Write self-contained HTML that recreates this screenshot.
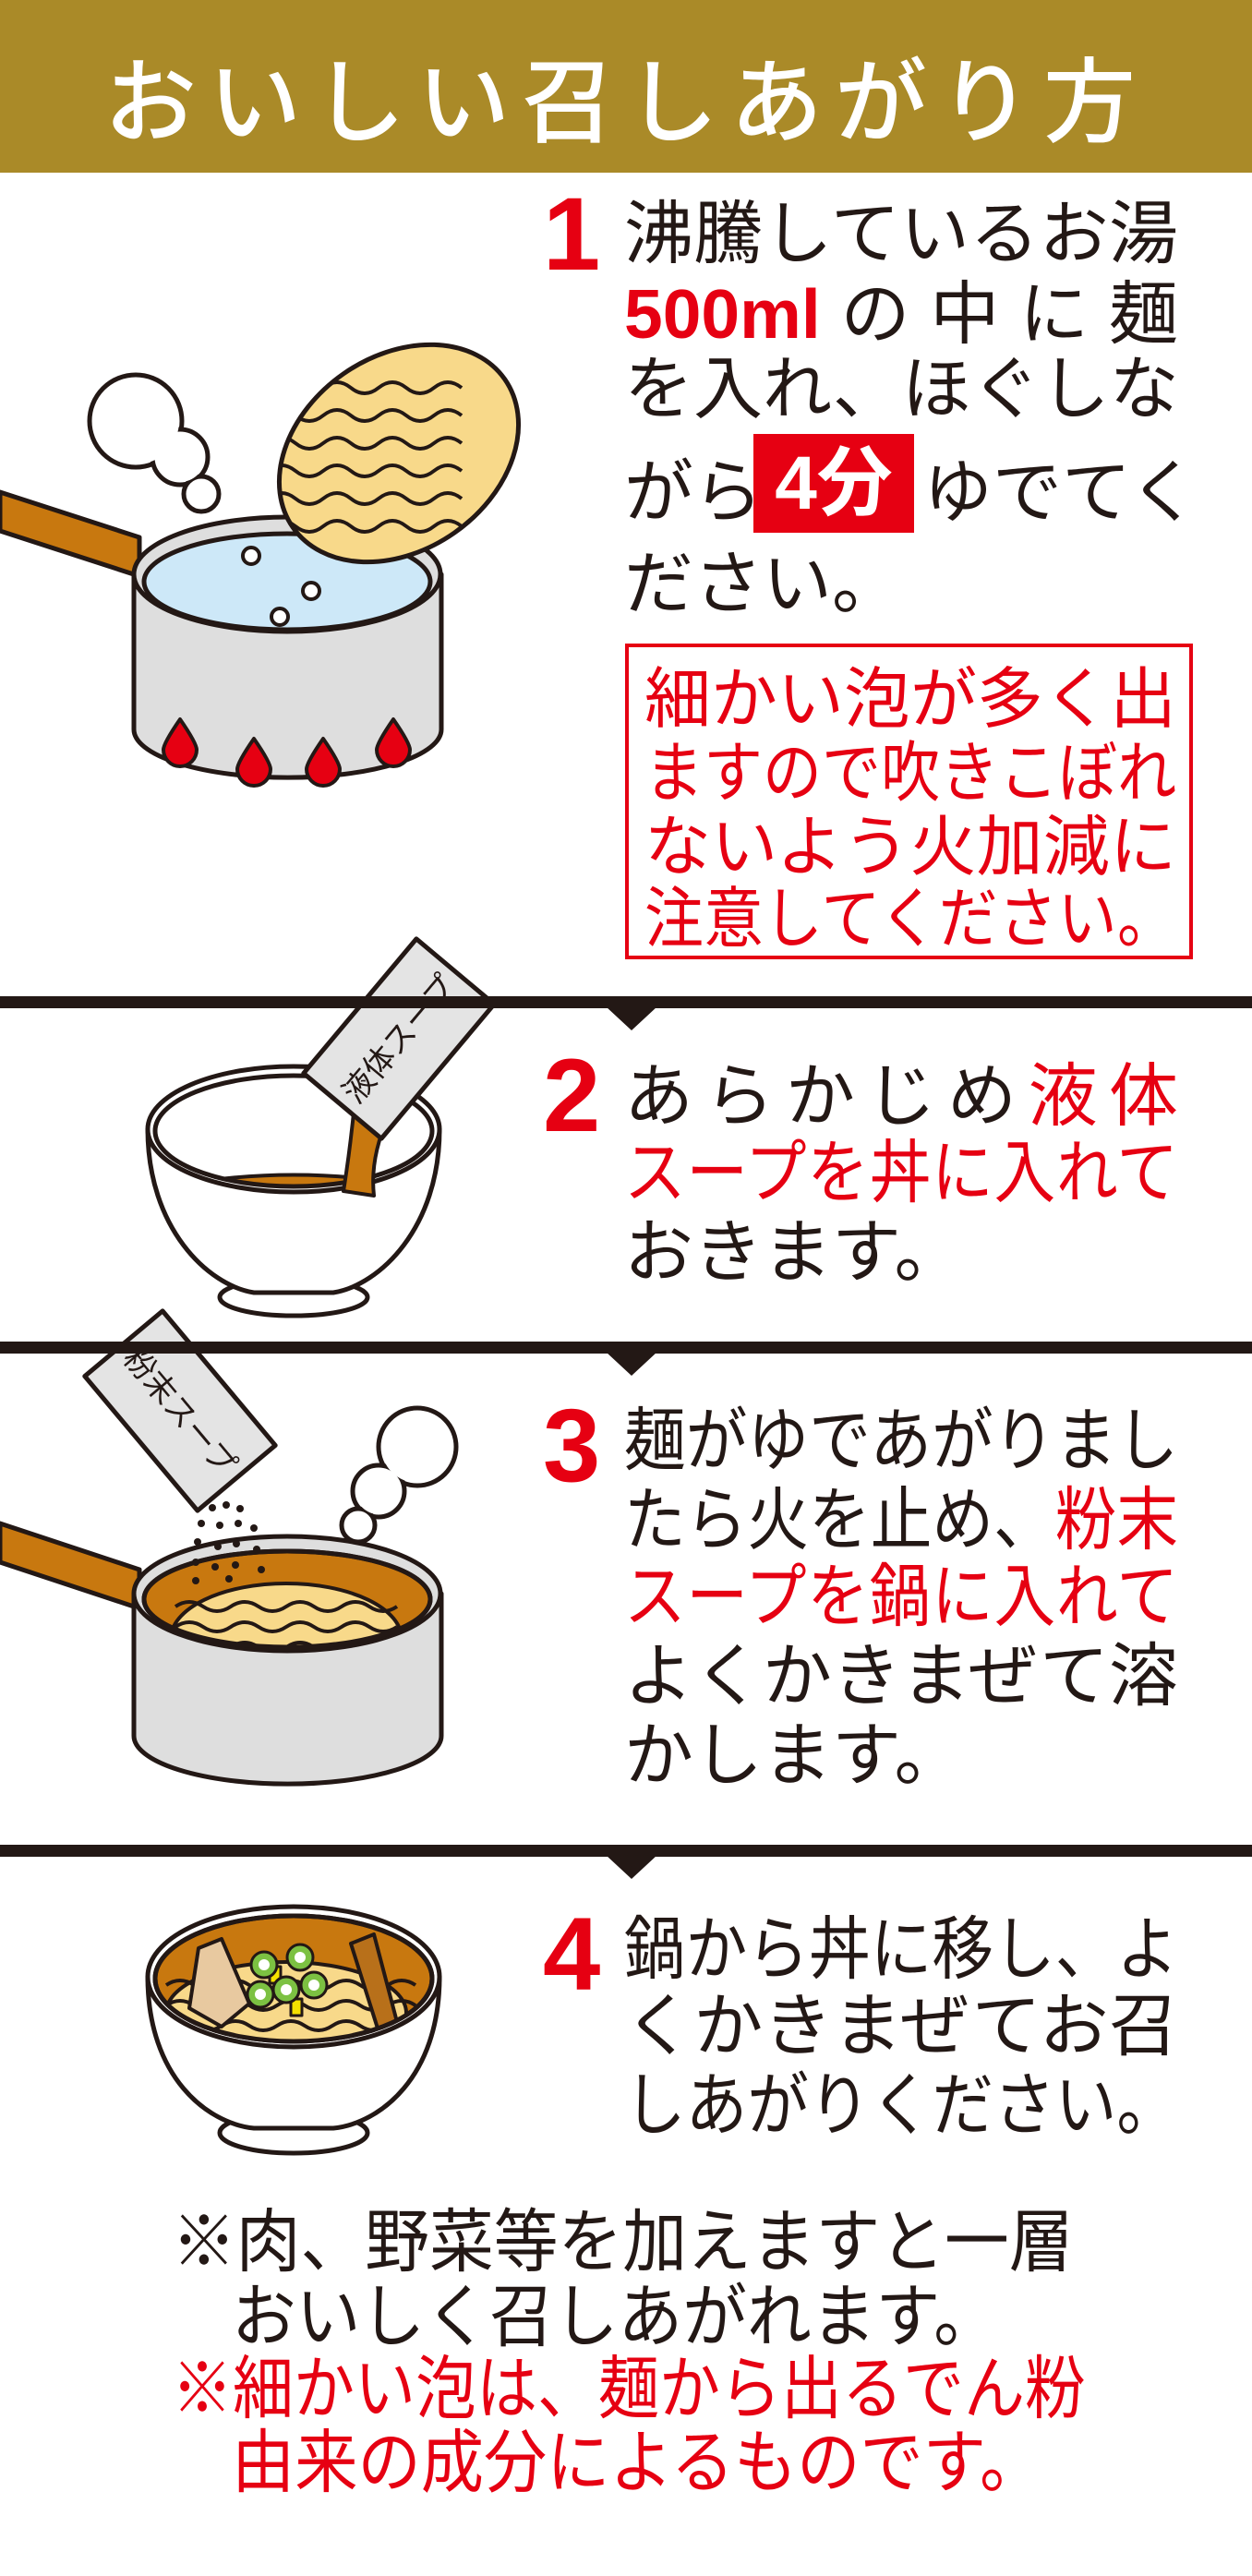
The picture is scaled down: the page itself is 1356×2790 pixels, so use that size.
<!DOCTYPE html>
<html><head><meta charset="utf-8">
<style>
*{margin:0;padding:0;box-sizing:border-box}
body{width:1356px;height:2790px;background:#fff;position:relative;overflow:hidden;font-family:"Liberation Sans","Noto Sans CJK JP",sans-serif;color:#231815}
.hdr{position:absolute;left:0;top:0;width:1356px;height:187px;background:#aa8a28}
.title{position:absolute;left:0;top:43px;width:1356px;text-align:center;color:#fff;font-size:100px;line-height:120px;letter-spacing:13px;font-family:"Noto Sans CJK JP",sans-serif;font-weight:500}
.ln{position:absolute;left:676px;white-space:nowrap;font-family:"Liberation Sans","Noto Sans CJK JP",sans-serif;font-size:75px;line-height:75px}
.j{width:600px;text-align:justify;text-align-last:justify}
.s9{width:675px;transform:scaleX(0.889);transform-origin:left center;text-align:justify;text-align-last:justify}
.r{color:#e60012}
.num{position:absolute;left:588px;color:#e60012;font-weight:bold;font-size:112px;line-height:112px;font-family:"Liberation Sans",sans-serif}
.bx{position:absolute;left:677px;top:697px;width:615px;height:342px;border:4px solid #e60012}
.bl{position:absolute;left:698px;white-space:nowrap;font-size:72px;line-height:72px;color:#e60012}
.bl.j8{width:576px;text-align:justify;text-align-last:justify}
.bl.j9{width:648px;transform:scaleX(0.889);transform-origin:left center;text-align:justify;text-align-last:justify}
.div{position:absolute;left:0;width:1356px;height:13px;background:#231815}
.tri{position:absolute;width:0;height:0;border-left:28px solid transparent;border-right:28px solid transparent;border-top:26px solid #231815}
.nt{position:absolute;white-space:nowrap;font-size:75px;line-height:75px;transform-origin:left center}
</style></head><body>
<div class="hdr"></div>
<div class="title">おいしい召しあがり方</div>

<svg width="1356" height="2790" style="position:absolute;left:0;top:0" xmlns="http://www.w3.org/2000/svg">
<defs>
<clipPath id="cake"><ellipse cx="432" cy="491" rx="138" ry="103" transform="rotate(-35 432 491)"/></clipPath>
<clipPath id="b2in"><ellipse cx="318" cy="1225" rx="150" ry="60"/></clipPath>
<clipPath id="p3in"><ellipse cx="311" cy="1732" rx="155" ry="52"/></clipPath>
<clipPath id="b4in"><ellipse cx="318" cy="2143" rx="150" ry="68"/></clipPath>
</defs>
<g stroke="#231815" stroke-width="5" stroke-linejoin="round">
<polygon points="0,533 151,582 151,624 0,575" fill="#c8780f"/>
<path d="M145,622 L145,790 A166,52 0 0 0 478,790 L478,622 Z" fill="#dedede"/>
<ellipse cx="311" cy="622" rx="166" ry="62" fill="#dedede"/>
<ellipse cx="311" cy="630" rx="155" ry="52" fill="#cde8f8"/>
<g fill="#fff" stroke-width="4"><circle cx="272" cy="602" r="9"/><circle cx="337" cy="640" r="9"/><circle cx="303" cy="668" r="9"/></g>
<g fill="#e60012" stroke-width="4">
<path d="M195,779 Q213,805 213,812 A18,18 0 0 1 177,812 Q177,805 195,779Z"/>
<path d="M275,800 Q293,826 293,833 A18,18 0 0 1 257,833 Q257,826 275,800Z"/>
<path d="M350,800 Q368,826 368,833 A18,18 0 0 1 332,833 Q332,826 350,800Z"/>
<path d="M426,779 Q444,805 444,812 A18,18 0 0 1 408,812 Q408,805 426,779Z"/>
</g>
<g fill="#fff"><circle cx="147" cy="456" r="50"/><circle cx="195" cy="495" r="30"/><circle cx="218" cy="535" r="19"/></g>
<g fill="#fff" stroke="none"><circle cx="147" cy="456" r="47"/><circle cx="195" cy="495" r="27"/><circle cx="218" cy="535" r="16"/></g>
<ellipse cx="432" cy="491" rx="140" ry="105" transform="rotate(-35 432 491)" fill="#f8d98a"/>
<g clip-path="url(#cake)" fill="none" stroke-width="4">
<path d="M290,420 q15,-12 30,0 t30,0 t30,0 t30,0 t30,0 t30,0 t30,0"/>
<path d="M290,450 q15,-12 30,0 t30,0 t30,0 t30,0 t30,0 t30,0 t30,0"/>
<path d="M290,480 q15,-12 30,0 t30,0 t30,0 t30,0 t30,0 t30,0 t30,0"/>
<path d="M290,510 q15,-12 30,0 t30,0 t30,0 t30,0 t30,0 t30,0 t30,0"/>
<path d="M290,540 q15,-12 30,0 t30,0 t30,0 t30,0 t30,0 t30,0 t30,0"/>
<path d="M290,570 q15,-12 30,0 t30,0 t30,0 t30,0 t30,0 t30,0 t30,0"/>
</g>

<ellipse cx="318" cy="1405" rx="80" ry="20" fill="#fff"/>
<path d="M160,1223 C160,1330 225,1392 275,1400 L361,1400 C411,1392 476,1330 476,1223 Z" fill="#fff"/>
<ellipse cx="318" cy="1223" rx="158" ry="68" fill="#fff"/>
<g clip-path="url(#b2in)"><path d="M160,1290 Q318,1255 476,1290 L476,1300 L160,1300Z" fill="#c8780f" stroke-width="4"/></g>
<ellipse cx="318" cy="1225" rx="150" ry="60" fill="none"/>
<path d="M385,1185 L425,1200 Q400,1250 405,1295 L372,1290 Q380,1240 385,1185Z" fill="#c8780f" stroke-width="4"/>
<g transform="rotate(-50 432 1125)"><rect x="337" y="1070" width="190" height="110" fill="#e4e4e4"/></g>

<polygon points="0,1650 151,1700 151,1742 0,1692" fill="#c8780f"/>
<path d="M145,1726 L145,1880 A166,52 0 0 0 478,1880 L478,1726 Z" fill="#dedede"/>
<ellipse cx="311" cy="1726" rx="166" ry="62" fill="#dedede"/>
<ellipse cx="311" cy="1732" rx="155" ry="52" fill="#c8780f"/>
<g clip-path="url(#p3in)"><ellipse cx="310" cy="1775" rx="125" ry="60" fill="#f8d98a" stroke-width="4"/>
<g fill="none" stroke-width="4">
<path d="M190,1740 q15,-10 30,0 t30,0 t30,0 t30,0 t30,0 t30,0 t30,0 t30,0"/>
<path d="M190,1762 q15,-10 30,0 t30,0 t30,0 t30,0 t30,0 t30,0 t30,0 t30,0"/>
<path d="M190,1784 q15,-10 30,0 t30,0 t30,0 t30,0 t30,0 t30,0 t30,0 t30,0"/>
</g></g>
<ellipse cx="311" cy="1732" rx="155" ry="52" fill="none"/>
<g fill="#fff"><circle cx="452" cy="1567" r="42"/><circle cx="410" cy="1615" r="28"/><circle cx="388" cy="1652" r="18"/></g>
<g fill="#fff" stroke="none"><circle cx="452" cy="1567" r="39"/><circle cx="410" cy="1615" r="25"/><circle cx="388" cy="1652" r="15"/></g>
<g transform="rotate(50 195 1528)"><rect x="100" y="1473" width="190" height="110" fill="#e4e4e4"/></g>
<g fill="#231815" stroke="none">
<circle cx="230" cy="1633" r="4"/><circle cx="245" cy="1630" r="4"/><circle cx="260" cy="1634" r="4"/>
<circle cx="218" cy="1650" r="4"/><circle cx="238" cy="1652" r="4"/><circle cx="258" cy="1650" r="4"/><circle cx="275" cy="1655" r="4"/>
<circle cx="214" cy="1670" r="4"/><circle cx="236" cy="1675" r="4"/><circle cx="256" cy="1672" r="4"/><circle cx="278" cy="1678" r="4"/>
<circle cx="212" cy="1692" r="4"/><circle cx="233" cy="1697" r="4"/><circle cx="255" cy="1695" r="4"/><circle cx="283" cy="1700" r="4"/>
<circle cx="212" cy="1712" r="4"/><circle cx="248" cy="1710" r="4"/>
</g>

<ellipse cx="318" cy="2310" rx="80" ry="22" fill="#fff"/>
<path d="M160,2141 C160,2250 225,2300 275,2305 L361,2305 C411,2300 476,2250 476,2141 Z" fill="#fff"/>
<ellipse cx="318" cy="2141" rx="158" ry="76" fill="#fff"/>
<ellipse cx="318" cy="2143" rx="150" ry="68" fill="#c8780f"/>
<g clip-path="url(#b4in)">
<ellipse cx="310" cy="2180" rx="130" ry="55" fill="#f8d98a" stroke-width="4"/>
<g fill="none" stroke-width="4">
<path d="M180,2150 q15,-10 30,0 t30,0 t30,0 t30,0 t30,0 t30,0 t30,0 t30,0 t30,0"/>
<path d="M180,2172 q15,-10 30,0 t30,0 t30,0 t30,0 t30,0 t30,0 t30,0 t30,0 t30,0"/>
<path d="M180,2194 q15,-10 30,0 t30,0 t30,0 t30,0 t30,0 t30,0 t30,0 t30,0 t30,0"/>
</g>
<path d="M215,2110 L240,2100 L270,2170 L240,2195 L205,2175Z" fill="#e8c9a0" stroke-width="4"/>
<path d="M380,2105 L405,2095 L430,2190 L410,2200Z" fill="#b8701a" stroke-width="4"/>
</g>
<ellipse cx="318" cy="2143" rx="150" ry="68" fill="none"/>
<g fill="#f5e100" stroke-width="3"><rect x="292" y="2130" width="12" height="18"/><rect x="315" y="2165" width="12" height="18"/></g>
<g fill="#7cc142" stroke-width="3">
<circle cx="286" cy="2128" r="14"/><circle cx="325" cy="2120" r="14"/><circle cx="310" cy="2155" r="14"/><circle cx="340" cy="2150" r="14"/><circle cx="282" cy="2160" r="14"/>
</g>
<g fill="#fff" stroke="none"><circle cx="286" cy="2128" r="6"/><circle cx="325" cy="2120" r="6"/><circle cx="310" cy="2155" r="6"/><circle cx="340" cy="2150" r="6"/><circle cx="282" cy="2160" r="6"/></g>
</g>
<text x="432" y="1137" transform="rotate(-50 432 1125)" text-anchor="middle" font-family="Noto Sans CJK JP, sans-serif" font-size="34" fill="#231815">液体スープ</text>
<text x="195" y="1540" transform="rotate(50 195 1528)" text-anchor="middle" font-family="Noto Sans CJK JP, sans-serif" font-size="34" fill="#231815">粉末スープ</text>
</svg>

<div class="num" style="top:198px">1</div>
<div class="ln j" style="top:216px">沸騰しているお湯</div>
<div class="ln j" style="top:303px"><span class="r" style="font-weight:bold">500ml</span>の中に麺</div>
<div class="ln j" style="top:384px">を入れ、ほぐしな</div>
<div class="ln" style="top:496px">がら</div>
<div style="position:absolute;left:816px;top:470px;width:174px;height:107px;background:#e60012;color:#fff;font-weight:bold;font-size:82px;line-height:107px;text-align:center;font-family:'Liberation Sans','Noto Sans CJK JP',sans-serif">4分</div>
<div class="ln" style="top:496px;left:1000px;width:276px;text-align:justify;text-align-last:justify">ゆでてく</div>
<div class="ln" style="top:595px">ださい。</div>
<div class="bx"></div>
<div class="bl j8" style="top:722px">細かい泡が多く出</div>
<div class="bl j9" style="top:802px">ますので吹きこぼれ</div>
<div class="bl j8" style="top:882px">ないよう火加減に</div>
<div class="bl j9" style="top:960px">注意してください。</div>

<div class="div" style="top:1079px"></div><div class="tri" style="left:656px;top:1090px"></div>

<div class="num" style="top:1131px">2</div>
<div class="ln j" style="top:1150px">あらかじめ<span class="r">液体</span></div>
<div class="ln s9 r" style="top:1233px">スープを丼に入れて</div>
<div class="ln" style="top:1319px">おきます。</div>

<div class="div" style="top:1453px"></div><div class="tri" style="left:656px;top:1464px"></div>

<div class="num" style="top:1510px">3</div>
<div class="ln s9" style="top:1523px">麺がゆであがりまし</div>
<div class="ln s9" style="top:1609px">たら火を止め、<span class="r">粉末</span></div>
<div class="ln s9 r" style="top:1692px">スープを鍋に入れて</div>
<div class="ln j" style="top:1778px">よくかきまぜて溶</div>
<div class="ln" style="top:1864px">かします。</div>

<div class="div" style="top:1998px"></div><div class="tri" style="left:656px;top:2009px"></div>

<div class="num" style="top:2061px">4</div>
<div class="ln s9" style="top:2074px">鍋から丼に移し、よ</div>
<div class="ln j" style="top:2157px">くかきまぜてお召</div>
<div class="ln s9" style="top:2243px">しあがりください。</div>

<div class="nt" style="left:186px;top:2391px;transform:scaleX(0.93)">※肉、野菜等を加えますと一層</div>
<div class="nt" style="left:251px;top:2472px;transform:scaleX(0.93)">おいしく召しあがれます。</div>
<div class="nt r" style="left:186px;top:2550px;transform:scaleX(0.88)">※細かい泡は、麺から出るでん粉</div>
<div class="nt r" style="left:251px;top:2630px;transform:scaleX(0.91)">由来の成分によるものです。</div>
</body></html>
